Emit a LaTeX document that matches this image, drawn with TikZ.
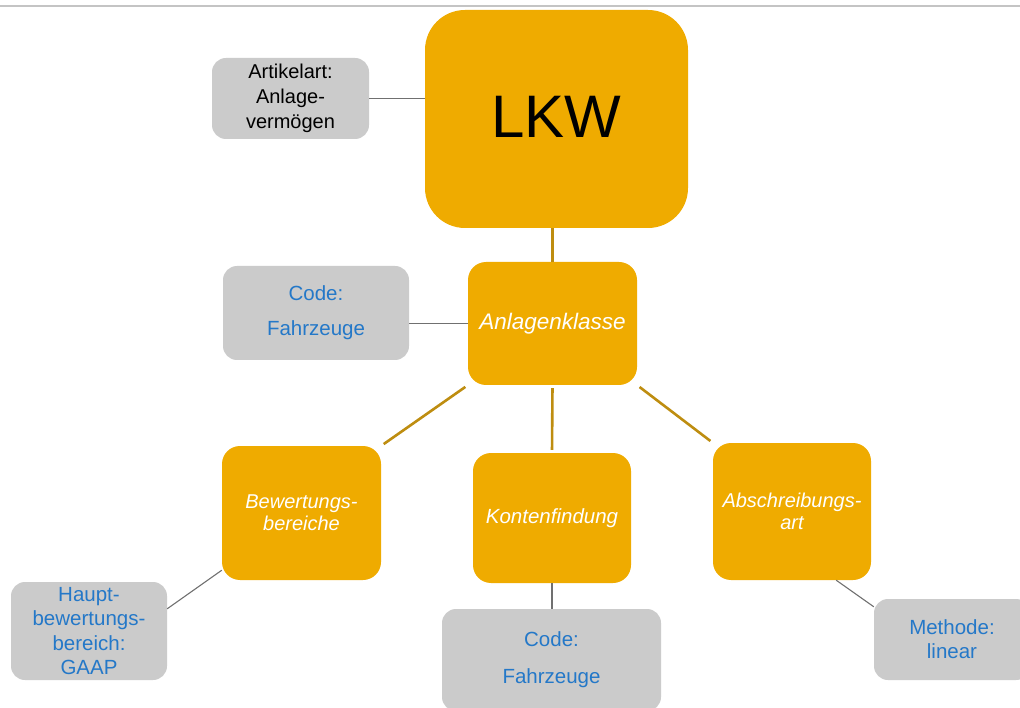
\documentclass[tikz,border=0pt]{standalone}
\usepackage{fontspec}
\setmainfont{Liberation Sans}
\definecolor{amber}{HTML}{EFAB00}
\definecolor{boxgray}{HTML}{CBCBCB}
\definecolor{codeblue}{HTML}{2478C8}
\definecolor{linkgold}{HTML}{BE8D10}
\definecolor{linkgray}{HTML}{707070}
\definecolor{rulegray}{HTML}{C4C4C4}
\tikzset{
  mainbox/.style={shape=rectangle,rounded corners=18pt,fill=amber,text=white,align=center,inner sep=0pt,font=\fontsize{20}{22}\selectfont\itshape},
  infobox/.style={shape=rectangle,rounded corners=14pt,fill=boxgray,text=codeblue,align=center,inner sep=0pt,font=\fontsize{20.5}{25}\selectfont},
  goldlink/.style={draw=linkgold,line width=2.6pt,shorten <=3pt,shorten >=3pt},
  graylink/.style={draw=linkgray,line width=1.1pt}
}

\begin{document}
\begin{tikzpicture}[x=1pt,y=-1pt]
\useasboundingbox (0,0) rectangle (1020,708);
\clip (0,0) rectangle (1020,708);
\draw[rulegray,line width=2pt] (0,6) -- (1020,6);

\node[mainbox,minimum width=263pt,minimum height=218pt,rounded corners=40pt,text=black,font=\fontsize{60}{66}\selectfont] (lkw) at (556.5,119) {\raisebox{4pt}{LKW}};
\node[infobox,minimum width=157pt,minimum height=81pt,text=black,font=\fontsize{20}{25}\selectfont] (art) at (290.5,98.5) {Artikelart:\\Anlage-\\vermögen};
\node[mainbox,minimum width=169pt,minimum height=123pt,font=\fontsize{22.5}{24}\selectfont\itshape] (klasse) at (552.5,323.5) {Anlagenklasse};
\node[infobox,minimum width=186pt,minimum height=94pt,font=\fontsize{20.5}{35}\selectfont] (code) at (316,313) {Code:\\Fahrzeuge};
\node[mainbox,minimum width=159pt,minimum height=134pt] (bew) at (301.5,513) {Bewertungs-\\bereiche};
\node[mainbox,minimum width=158pt,minimum height=130pt,font=\fontsize{20.5}{22}\selectfont\itshape] (konten) at (552,518) {Kontenfindung};
\node[mainbox,minimum width=158pt,minimum height=137pt] (abs) at (792,511.5) {Abschreibungs-\\art};
\node[infobox,minimum width=156pt,minimum height=98pt,font=\fontsize{20.5}{24.5}\selectfont] (haupt) at (89,631) {Haupt-\\bewertungs-\\bereich:\\GAAP};
\node[infobox,minimum width=219pt,minimum height=102pt,font=\fontsize{20.5}{37}\selectfont] (kcode) at (551.5,660) {Code:\\Fahrzeuge};
\node[infobox,minimum width=156pt,minimum height=81pt,font=\fontsize{20.5}{24}\selectfont] (methode) at (952,639.5) {Methode:\\linear};

\path [graylink] (art.east) edge (art.east -| lkw.west);
\path [goldlink,shorten <=0pt,shorten >=0pt] (klasse.north |- lkw.south) edge (klasse.north);
\path [graylink] (klasse.west -| code.east) edge (klasse.west);
\path [goldlink] (klasse.south west) edge (bew.north east);
\path [goldlink] (klasse.south) edge (konten.north);
\path [goldlink] (klasse.south east) edge (abs.north west);
\path [graylink] ([yshift=10pt]bew.south west) edge ([yshift=-27pt]haupt.north east);
\path [graylink] (konten.south) edge (konten.south |- kcode.north);
\path [graylink] ([xshift=-35pt]abs.south east) edge ([yshift=-8pt]methode.north west);
\end{tikzpicture}
\end{document}
